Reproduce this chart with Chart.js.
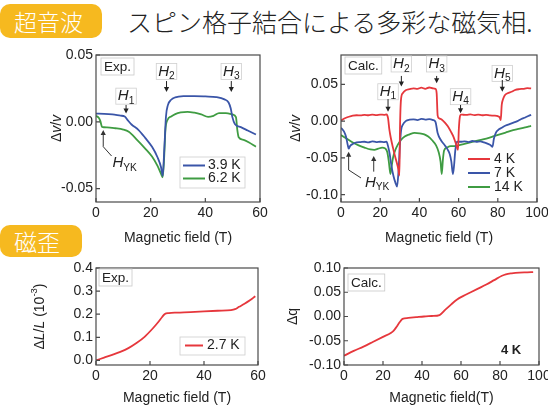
<!DOCTYPE html>
<html>
<head>
<meta charset="utf-8">
<script src="https://cdn.jsdelivr.net/npm/chart.js@4.4.1/dist/chart.umd.min.js"></script>
<style>
  html, body { margin: 0; padding: 0; }
  body { width: 548px; height: 410px; overflow: hidden; background: #fff; position: relative; }
  canvas { position: absolute; left: 0; top: 0; }
  .tag {
    position: absolute; left: 0; box-sizing: border-box; padding-left: 14px;
    background: #f6b91f; color: #fff; border-radius: 10px;
    font-family: "Noto Sans CJK JP", sans-serif; font-weight: 300; font-size: 23px;
  }
  .head {
    position: absolute; left: 127px; top: 4px; line-height: 34px;
    font-family: "Noto Sans CJK JP", sans-serif; font-weight: 300; font-size: 25px; color: #222;
    white-space: nowrap;
  }
</style>
</head>
<body>
<div class="tag" style="top:4px;height:34px;width:102px;line-height:34px;">超音波</div>
<div class="head">スピン格子結合による多彩な磁気相.</div>
<div class="tag" style="top:225px;height:32px;width:82px;line-height:32px;">磁歪</div>

<canvas id="c1" width="560" height="410"></canvas>
<canvas id="c2" width="560" height="410"></canvas>
<canvas id="c3" width="560" height="410"></canvas>
<canvas id="c4" width="560" height="410"></canvas>

<script>
// ---------- ultrasound, experiment: Δv/v vs field (T)
const fieldExp39 = [0, 3, 6, 9, 10.5, 11.5, 13, 15.5, 18, 20.5, 22.5, 23.8, 24.4, 25, 25.6, 26.3, 27.5, 29, 32, 36, 40, 44, 47, 48.5, 49.3, 49.9, 50.8, 53, 55.5, 58.5];
const dvExp39 = [0.0062, 0.006, 0.0055, 0.0046, 0.004, 0.0015, -0.002, -0.006, -0.012, -0.0187, -0.0265, -0.034, -0.0405, -0.02, 0.004, 0.0125, 0.0165, 0.0183, 0.0192, 0.0193, 0.019, 0.0185, 0.0168, 0.0145, 0.01, 0.0035, -0.0017, -0.004, -0.0065, -0.0095];
const fieldExp62 = [0, 1, 1.6, 2.2, 4, 7, 10, 12, 15, 18, 20.5, 22.5, 23.8, 24.4, 24.9, 25.4, 26.2, 27.5, 29, 31, 33.5, 36, 38.5, 41, 43, 45, 47.5, 50, 51.2, 51.7, 52.2, 54, 56, 58.5];
const dvExp62 = [0.0045, 0.003, 0.0005, -0.0038, -0.0042, -0.0048, -0.0058, -0.0075, -0.0135, -0.02, -0.026, -0.033, -0.039, -0.0415, -0.028, -0.006, 0.0015, 0.004, 0.0058, 0.007, 0.0075, 0.0068, 0.0055, 0.0037, 0.0045, 0.0065, 0.0065, 0.0055, 0.0035, -0.006, -0.0115, -0.0135, -0.0155, -0.0187];

// ---------- ultrasound, calculation: Δv/v vs field (T)
const fieldCalc4 = [0, 2, 4, 6, 8, 10, 12, 14, 16, 18, 20, 22, 23.3, 24, 24.7, 25.5, 26.5, 27.5, 28.5, 29.3, 29.8, 30.1, 30.6, 31.5, 33, 35, 37, 39, 41, 43, 45, 47, 48.2, 48.8, 49.3, 50, 51.5, 53, 54.5, 56, 57.5, 58.8, 59.7, 60.1, 60.6, 61.2, 62, 64, 66, 68, 70, 72, 74, 76, 78, 80, 81, 81.5, 82, 82.7, 83.5, 85, 87, 89, 91, 93, 95, 97];
const dvCalc4 = [0.001, 0.004, 0.006, 0.0075, 0.008, 0.0078, 0.0085, 0.008, 0.0088, 0.0083, 0.009, 0.0086, 0.0092, 0.004, -0.012, -0.024, -0.036, -0.047, -0.057, -0.066, -0.074, -0.01, 0.029, 0.038, 0.042, 0.0435, 0.0445, 0.044, 0.0455, 0.044, 0.0458, 0.0445, 0.044, 0.038, 0.008, 0.004, 0.002, -0.002, -0.007, -0.014, -0.022, -0.032, -0.039, -0.012, 0.005, 0.009, 0.0088, 0.0085, 0.0092, 0.0082, 0.0088, 0.008, 0.0086, 0.0078, 0.0075, 0.0068, 0.005, 0.0015, 0.022, 0.030, 0.035, 0.038, 0.040, 0.0425, 0.0435, 0.044, 0.0448, 0.0445];
const fieldCalc7 = [0, 1.5, 2.6, 3.4, 3.9, 4.6, 6, 8, 10, 12, 14, 16, 18, 20, 22, 23.2, 24, 24.8, 25.8, 26.8, 27.8, 28.6, 29.3, 30, 30.7, 31.5, 33, 35, 37, 39, 41, 43, 45, 47, 48.2, 49.3, 51, 53, 54.5, 55.5, 56.3, 57.1, 57.7, 58.3, 59.2, 61, 63, 65, 67, 69, 71, 73, 75, 76.5, 77.3, 78, 79, 80, 82, 84, 86, 88, 90, 92, 94, 96, 97];
const dvCalc7 = [-0.009, -0.014, -0.0215, -0.032, -0.0375, -0.034, -0.031, -0.029, -0.0285, -0.028, -0.029, -0.0275, -0.0285, -0.028, -0.0285, -0.028, -0.034, -0.044, -0.062, -0.075, -0.084, -0.089, -0.07, -0.035, -0.012, -0.005, 0.0, 0.002, 0.0025, 0.0015, 0.003, 0.0022, 0.0028, 0.0015, -0.001, -0.016, -0.026, -0.033, -0.039, -0.045, -0.055, -0.072, -0.06, -0.04, -0.028, -0.028, -0.0275, -0.0285, -0.027, -0.028, -0.0275, -0.029, -0.031, -0.033, -0.035, -0.024, -0.016, -0.0124, -0.009, -0.006, -0.004, -0.002, 0.0, 0.003, 0.005, 0.0075, 0.0085];
const fieldCalc14 = [0, 3, 6, 9, 12, 15, 17, 19, 21, 22.5, 23.6, 24.4, 25.2, 25.8, 26.6, 27.6, 29, 30.5, 32.5, 35, 37.5, 40, 42.5, 44.5, 46.5, 48.5, 49.8, 50.8, 51.4, 52, 52.6, 54, 56, 58, 60, 63, 66, 69, 72, 75, 78, 81, 84, 87, 90, 93, 96, 97];
const dvCalc14 = [-0.019, -0.024, -0.029, -0.033, -0.036, -0.0385, -0.039, -0.0375, -0.036, -0.037, -0.042, -0.055, -0.072, -0.062, -0.049, -0.04, -0.032, -0.026, -0.021, -0.018, -0.016, -0.0165, -0.018, -0.021, -0.026, -0.033, -0.042, -0.055, -0.072, -0.052, -0.04, -0.036, -0.034, -0.034, -0.033, -0.031, -0.029, -0.027, -0.025, -0.023, -0.0205, -0.018, -0.0155, -0.013, -0.011, -0.009, -0.007, -0.0065];

// ---------- magnetostriction
const fieldStrain = [0, 3, 6, 9, 12, 15, 18, 21, 23, 24.5, 25.5, 27, 30, 35, 40, 45, 50, 51.5, 53, 55, 57, 59];
const strainExp = [0.0, 0.012, 0.024, 0.037, 0.053, 0.075, 0.102, 0.138, 0.165, 0.188, 0.201, 0.205, 0.207, 0.209, 0.212, 0.215, 0.218, 0.222, 0.232, 0.245, 0.26, 0.278];
const fieldDq = [0, 5, 10, 15, 20, 24, 25.5, 27, 28.5, 30, 33, 37, 41, 45, 49, 52, 55, 58, 61, 65, 69, 73, 77, 81, 83, 86, 90, 94, 97];
const dqCalc = [-0.081, -0.071, -0.062, -0.052, -0.042, -0.034, -0.029, -0.021, -0.012, -0.005, -0.003, -0.0015, 0.0, 0.001, 0.003, 0.014, 0.025, 0.035, 0.042, 0.050, 0.058, 0.066, 0.075, 0.084, 0.087, 0.089, 0.0905, 0.091, 0.0915];

// ---------- tick labels
const xTicks60 = [0, 20, 40, 60];
const xTicks100 = [0, 20, 40, 60, 80, 100];
const yTicksExp = [-0.05, 0, 0.05];
const yTicksCalc = [-0.10, -0.05, 0, 0.05];
const yTicksStrain = [0, 0.1, 0.2, 0.3, 0.4];
const yTicksDq = [-0.10, -0.05, 0, 0.05, 0.10];

const FONT = "'Liberation Sans', Arial, Helvetica, sans-serif";
const INK = '#222';
const BLUE = '#3a55a8', GREEN = '#3f9c42', RED = '#e6373c';

// draw a run of text pieces (italic / subscript / superscript) on one line
function drawRich(ctx, segs, x, y, size, align) {
  const parts = segs.map(s => {
    const fs = (s.sub || s.sup) ? size * 0.68 : size;
    const font = (s.it ? 'italic ' : '') + (s.bold ? 'bold ' : '') + fs + 'px ' + FONT;
    ctx.font = font;
    return { s, font, w: ctx.measureText(s.t).width };
  });
  const total = parts.reduce((a, p) => a + p.w, 0);
  let cx = align === 'center' ? x - total / 2 : align === 'right' ? x - total : x;
  ctx.textAlign = 'left';
  ctx.textBaseline = 'middle';
  ctx.fillStyle = INK;
  parts.forEach(p => {
    ctx.font = p.font;
    const dy = p.s.sub ? size * 0.32 : p.s.sup ? -size * 0.38 : 0;
    ctx.fillText(p.s.t, cx, y + dy);
    cx += p.w;
  });
  return total;
}

function richWidth(ctx, segs, size) {
  return segs.reduce((a, s) => {
    const fs = (s.sub || s.sup) ? size * 0.68 : size;
    ctx.font = (s.it ? 'italic ' : '') + fs + 'px ' + FONT;
    return a + ctx.measureText(s.t).width;
  }, 0);
}

function arrowHead(ctx, x, y, dx, dy) {
  const len = Math.hypot(dx, dy), ux = dx / len, uy = dy / len;
  const L = 5, W = 2.6;
  ctx.beginPath();
  ctx.moveTo(x, y);
  ctx.lineTo(x - ux * L - uy * W, y - uy * L + ux * W);
  ctx.lineTo(x - ux * L + uy * W, y - uy * L - ux * W);
  ctx.closePath();
  ctx.fill();
}

// frame, inward ticks, titles, tags, labels and legend drawn over the plot
function makeDecor(cfg) {
  return {
    id: 'decor',
    afterDraw(chart) {
      const { ctx, chartArea: a, scales: { x, y } } = chart;
      const px = v => x.getPixelForValue(v), py = v => y.getPixelForValue(v);
      ctx.save();

      // frame
      ctx.strokeStyle = '#4a4a4a';
      ctx.lineWidth = 1.2;
      ctx.strokeRect(a.left, a.top, a.right - a.left, a.bottom - a.top);
      // inward tick marks
      ctx.beginPath();
      x.ticks.forEach(t => { const p = px(t.value); ctx.moveTo(p, a.bottom); ctx.lineTo(p, a.bottom - 4); });
      y.ticks.forEach(t => { const p = py(t.value); ctx.moveTo(a.left, p); ctx.lineTo(a.left + 4, p); });
      ctx.stroke();

      // axis titles
      drawRich(ctx, cfg.xTitle, (a.left + a.right) / 2, a.bottom + cfg.xTitleGap, 14, 'center');
      ctx.save();
      ctx.translate(a.left + cfg.yTitleGap, (a.top + a.bottom) / 2);
      ctx.rotate(-Math.PI / 2);
      drawRich(ctx, cfg.yTitle, 0, 0, 14, 'center');
      ctx.restore();

      // corner tag (Exp. / Calc.)
      if (cfg.tag) {
        ctx.font = '13.5px ' + FONT;
        const tw = ctx.measureText(cfg.tag.text).width;
        const bx = a.left + cfg.tag.dx, by = a.top + cfg.tag.dy;
        ctx.fillStyle = '#fff';
        ctx.fillRect(bx, by, tw + 6, 17);
        ctx.strokeStyle = '#c9c9c9';
        ctx.lineWidth = 0.8;
        ctx.strokeRect(bx, by, tw + 6, 17);
        ctx.fillStyle = INK;
        ctx.textBaseline = 'middle';
        ctx.textAlign = 'left';
        ctx.fillText(cfg.tag.text, bx + 3, by + 9);
      }

      // field markers with arrows
      (cfg.marks || []).forEach(m => {
        const xx = px(m.x);
        const ly = py(m.ly);
        const w = richWidth(ctx, m.label, 15);
        ctx.fillStyle = '#fff';
        ctx.fillRect(xx - w / 2 - 2, ly - 8, w + 4, 16);
        ctx.strokeStyle = '#cfcfcf';
        ctx.lineWidth = 0.8;
        ctx.strokeRect(xx - w / 2 - 2, ly - 8, w + 4, 16);
        drawRich(ctx, m.label, xx, ly, 15, 'center');
        ctx.strokeStyle = INK;
        ctx.fillStyle = INK;
        ctx.lineWidth = 1;
        const y1 = py(m.from), y2 = py(m.to);
        ctx.beginPath(); ctx.moveTo(xx, y1); ctx.lineTo(xx, y2 - 3); ctx.stroke();
        arrowHead(ctx, xx, y2, 0, 1);
      });

      // bent pointers for H_YK
      (cfg.pointers || []).forEach(pts => {
        const P = pts.map(p => [px(p[0]), py(p[1])]);
        ctx.strokeStyle = '#333';
        ctx.fillStyle = '#333';
        ctx.lineWidth = 1;
        ctx.beginPath();
        ctx.moveTo(P[0][0], P[0][1] + 3);
        for (let i = 1; i < P.length; i++) ctx.lineTo(P[i][0], P[i][1]);
        ctx.stroke();
        arrowHead(ctx, P[0][0], P[0][1], P[0][0] - P[1][0], P[0][1] - P[1][1]);
      });
      (cfg.texts || []).forEach(t => drawRich(ctx, t.segs, px(t.x), py(t.y), t.size || 15, t.align || 'left'));

      // legend
      if (cfg.legend) {
        const L = cfg.legend;
        const bx = a.right + L.dx, by = a.bottom + L.dy;
        ctx.fillStyle = '#fff';
        ctx.fillRect(bx, by, L.w, L.h);
        if (L.border) {
          ctx.strokeStyle = '#cdcdcd';
          ctx.lineWidth = 0.8;
          ctx.strokeRect(bx, by, L.w, L.h);
        }
        chart.data.datasets.forEach((ds, i) => {
          const ry = by + L.first + i * L.row;
          ctx.strokeStyle = ds.borderColor;
          ctx.lineWidth = 2;
          ctx.beginPath(); ctx.moveTo(bx + L.l0, ry); ctx.lineTo(bx + L.l1, ry); ctx.stroke();
          ctx.fillStyle = INK;
          ctx.font = '14px ' + FONT;
          ctx.textAlign = 'left';
          ctx.textBaseline = 'middle';
          ctx.fillText(ds.label, bx + L.tx, ry);
        });
      }

      // plain note
      if (cfg.note) {
        ctx.fillStyle = INK;
        ctx.font = 'bold 13px ' + FONT;
        ctx.textAlign = 'left';
        ctx.textBaseline = 'middle';
        ctx.fillText(cfg.note.text, a.right + cfg.note.dx, a.bottom + cfg.note.dy);
      }
      ctx.restore();
    }
  };
}

const Y_W = 60, X_H = 30;

function panel(id, p) {
  const series = p.series.map(s => ({
    label: s.label,
    data: s.x.map((v, i) => ({ x: v, y: s.y[i] })),
    borderColor: s.color,
    borderWidth: 1.8,
    pointRadius: 0,
    fill: false,
    cubicInterpolationMode: 'monotone'
  }));
  const tickFont = { family: FONT, size: 14 };
  new Chart(document.getElementById(id), {
    type: 'line',
    data: { datasets: series },
    options: {
      responsive: false,
      animation: false,
      events: [],
      layout: { padding: { left: p.area.left - Y_W, top: p.area.top, right: 560 - p.area.right, bottom: 410 - p.area.bottom - X_H } },
      plugins: { legend: { display: false }, tooltip: { enabled: false } },
      scales: {
        x: {
          type: 'linear', min: p.xMin, max: p.xMax,
          afterBuildTicks: s => { s.ticks = p.xTicks.map(v => ({ value: v })); },
          afterFit: s => { s.height = X_H; },
          grid: { display: false, drawTicks: false },
          border: { display: false },
          ticks: { font: tickFont, color: INK, padding: 3, maxRotation: 0, autoSkip: false, callback: v => String(v) }
        },
        y: {
          type: 'linear', min: p.yMin, max: p.yMax,
          afterBuildTicks: s => { s.ticks = p.yTicks.map(v => ({ value: v })); },
          afterFit: s => { s.width = Y_W; },
          grid: { display: false, drawTicks: false },
          border: { display: false },
          ticks: { font: tickFont, color: INK, padding: 3, autoSkip: false, callback: v => v.toFixed(p.yDec) }
        }
      }
    },
    plugins: [makeDecor(p.decor)]
  });
}

const H = sub => [{ t: 'H', it: true }, { t: sub, sub: true }];
const fieldTitle = [{ t: 'Magnetic field (T)' }];
const dvTitle = [{ t: 'Δ' }, { t: 'v', it: true }, { t: '/' }, { t: 'v', it: true }];

// ultrasound, experiment
panel('c1', {
  area: { left: 96, top: 55, right: 260, bottom: 202 },
  xMin: 0, xMax: 60, yMin: -0.06, yMax: 0.05, xTicks: xTicks60, yTicks: yTicksExp, yDec: 2,
  series: [
    { label: '3.9 K', x: fieldExp39, y: dvExp39, color: BLUE },
    { label: '6.2 K', x: fieldExp62, y: dvExp62, color: GREEN }
  ],
  decor: {
    xTitle: fieldTitle, xTitleGap: 36, yTitle: dvTitle, yTitleGap: -39,
    tag: { text: 'Exp.', dx: 5, dy: 3 },
    marks: [
      { label: H('1'), x: 11, ly: 0.0192, from: 0.0126, to: 0.0062 },
      { label: H('2'), x: 25.8, ly: 0.0376, from: 0.0305, to: 0.0223 },
      { label: H('3'), x: 49.5, ly: 0.0376, from: 0.0305, to: 0.0223 }
    ],
    pointers: [[[2.65, -0.0061], [2.65, -0.0186], [5.7, -0.0256]]],
    texts: [{ segs: H('YK'), x: 6.0, y: -0.0308 }],
    legend: { dx: -80, dy: -45, w: 65, h: 31, first: 8.5, row: 13, l0: 3, l1: 25, tx: 28, border: true }
  }
});

// ultrasound, calculation
panel('c2', {
  area: { left: 341, top: 55, right: 537, bottom: 202 },
  xMin: 0, xMax: 100, yMin: -0.11, yMax: 0.09, xTicks: xTicks100, yTicks: yTicksCalc, yDec: 2,
  series: [
    { label: '4 K', x: fieldCalc4, y: dvCalc4, color: RED },
    { label: '7 K', x: fieldCalc7, y: dvCalc7, color: BLUE },
    { label: '14 K', x: fieldCalc14, y: dvCalc14, color: GREEN }
  ],
  decor: {
    xTitle: fieldTitle, xTitleGap: 36, yTitle: dvTitle, yTitleGap: -45,
    tag: { text: 'Calc.', dx: 4, dy: 2 },
    marks: [
      { label: H('1'), x: 24, ly: 0.040, from: 0.030, to: 0.0129 },
      { label: H('2'), x: 30.8, ly: 0.0778, from: 0.0615, to: 0.047 },
      { label: H('3'), x: 48.8, ly: 0.0778, from: 0.0615, to: 0.0516 },
      { label: H('4'), x: 61, ly: 0.0333, from: 0.022, to: 0.0107 },
      { label: H('5'), x: 82.3, ly: 0.065, from: 0.056, to: 0.040 }
    ],
    pointers: [
      [[3.9, -0.0415], [3.9, -0.0664], [10.2, -0.0773]],
      [[16.7, -0.0473], [16.7, -0.0687]]
    ],
    texts: [{ segs: H('YK'), x: 12.2, y: -0.0834 }],
    legend: { dx: -74, dy: -52, w: 72, h: 45, first: 9, row: 14, l0: 5, l1: 27, tx: 31, border: false }
  }
});

// magnetostriction, experiment
panel('c3', {
  area: { left: 96, top: 268, right: 258, bottom: 365 },
  xMin: 0, xMax: 60, yMin: -0.02, yMax: 0.4, xTicks: xTicks60, yTicks: yTicksStrain, yDec: 1,
  series: [{ label: '2.7 K', x: fieldStrain, y: strainExp, color: RED }],
  decor: {
    xTitle: fieldTitle, xTitleGap: 33,
    yTitle: [{ t: 'Δ' }, { t: 'L', it: true }, { t: '/' }, { t: 'L', it: true }, { t: ' (10' }, { t: '-3', sup: true }, { t: ')' }],
    yTitleGap: -56,
    tag: { text: 'Exp.', dx: 3, dy: 1 },
    legend: { dx: -78, dy: -28, w: 65, h: 18, first: 8.5, row: 13, l0: 5, l1: 23, tx: 27, border: true }
  }
});

// magnetostriction, calculation
panel('c4', {
  area: { left: 344, top: 268, right: 539, bottom: 365 },
  xMin: 0, xMax: 100, yMin: -0.10, yMax: 0.10, xTicks: xTicks100, yTicks: yTicksDq, yDec: 2,
  series: [{ label: '4 K', x: fieldDq, y: dqCalc, color: RED }],
  decor: {
    xTitle: [{ t: 'Magnetic field(T)' }], xTitleGap: 33,
    yTitle: [{ t: 'Δq' }], yTitleGap: -51,
    tag: { text: 'Calc.', dx: 4, dy: 6 },
    note: { text: '4 K', dx: -38, dy: -15 }
  }
});
</script>
</body>
</html>
